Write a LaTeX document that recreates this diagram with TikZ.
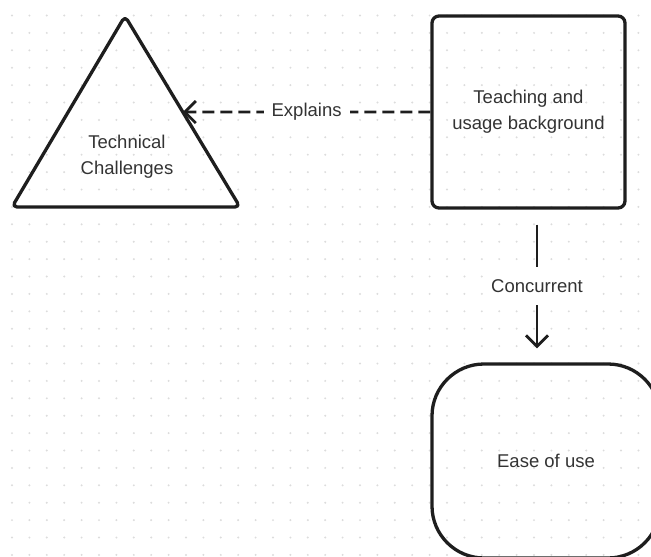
\documentclass[tikz,border=0pt]{standalone}
\usepackage{fontspec}
\setmainfont{Liberation Sans}
\usepackage{xcolor}
\usepackage{tikz}
\usetikzlibrary{arrows.meta,calc}
\definecolor{InkBlack}{HTML}{1E1E1E}
\definecolor{TextGray}{HTML}{333333}
\definecolor{DotGray}{HTML}{DCDCDC}

\begin{document}
\begin{tikzpicture}[
  x=1pt,y=-1pt,
  outline/.style={draw=InkBlack,line width=3.3pt,line join=round},
  txt/.style={text=TextGray,align=center,font=\fontsize{18.5}{26}\selectfont},
  box/.style={outline,txt,rounded corners=7pt,minimum width=193pt,minimum height=192pt},
  blob/.style={outline,txt,rounded corners=52pt,minimum width=228pt,minimum height=194pt},
  lbl/.style={txt,fill=white,inner xsep=8pt,inner ysep=12pt},
  arr/.style={draw=InkBlack,line width=2.8pt,-{Straight Barb[length=11pt,width=22pt]}},
  griddot/.style={fill=DotGray}
]
\useasboundingbox (0,0) rectangle (651,557);
\clip (0,0) rectangle (651,557);
% dotted canvas
\foreach \i in {0,...,37}
  \foreach \j in {0,...,31}
    \fill[griddot] ({12+17.4*\i},{15.5+17.4*\j}) circle (1.1pt);
% triangle
\coordinate (apex) at (125,16);
\coordinate (lowleft) at (12,207);
\coordinate (lowright) at (240,207);
\draw[outline,rounded corners=5pt] (apex) -- (lowleft) -- (lowright) -- cycle;
\node[txt] (tech) at (127,157) {Technical\\Challenges};
\coordinate (techside) at ($(apex)!0.503!(lowright)$);
% boxes
\node[box] (teach) at (528.5,112) {Teaching and\\usage background};
\node[blob] (ease) at (546,461) {Ease of use};
% connectors
\draw[arr,dash pattern=on 12pt off 6pt] (teach.west) -- node[lbl] (explains) {Explains} (techside);
\draw[arr,shorten <=15pt,shorten >=14pt] ([xshift=8.5pt]teach.south) -- node[lbl] (concurrent) {Concurrent} ([xshift=-9pt]ease.north);
\end{tikzpicture}
\end{document}
